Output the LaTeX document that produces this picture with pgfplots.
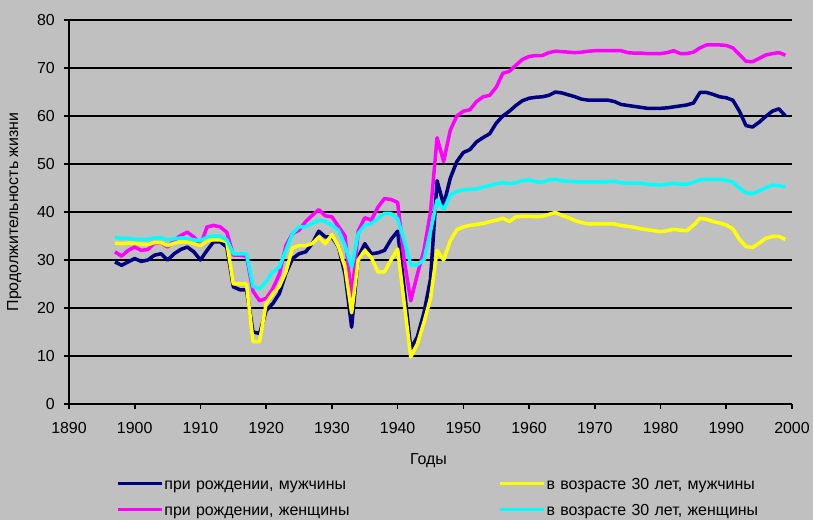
\documentclass[border=0pt]{standalone}
\usepackage{fontspec}
\setmainfont{Liberation Sans}
\usepackage{pgfplots}
\usepackage{pgfplotstable}
\pgfplotsset{compat=1.18}

\definecolor{bg}{RGB}{192,192,192}
\definecolor{mnavy}{RGB}{0,0,128}
\definecolor{mmag}{RGB}{255,0,255}
\definecolor{myel}{RGB}{255,255,0}
\definecolor{mcyan}{RGB}{0,255,255}

% year, at birth (men, women), at age 30 (men, women)
\pgfplotstableread{
year navy mag yel cyan
1897 29.6 31.7 33.5 34.7
1898 28.9 30.8 33.4 34.5
1899 29.6 32.0 33.5 34.5
1900 30.3 32.7 33.5 34.3
1901 29.7 32.0 33.3 34.3
1902 30.0 32.2 33.2 34.3
1903 31.0 33.5 33.6 34.6
1904 31.3 33.6 33.6 34.6
1905 30.0 32.7 33.0 34.2
1906 31.3 34.1 33.5 34.4
1907 32.2 35.1 33.8 34.6
1908 32.7 35.8 33.8 34.5
1909 31.7 34.8 33.4 34.2
1910 30.0 33.1 33.0 34.0
1911 32.0 36.9 34.0 34.8
1912 33.8 37.2 34.2 35.0
1913 33.8 36.9 34.2 34.9
1914 32.7 35.8 33.8 34.2
1915 24.4 31.0 25.0 31.3
1916 23.8 31.0 25.0 31.3
1917 23.8 30.8 25.0 31.3
1918 15.0 23.5 13.0 24.5
1919 14.7 21.5 13.0 24.0
1920 19.5 22.0 21.0 25.5
1921 20.9 24.0 23.0 27.5
1922 23.0 27.0 24.5 28.5
1923 27.2 33.0 27.5 32.0
1924 30.3 35.5 32.5 35.5
1925 31.3 36.2 33.0 36.9
1926 31.7 38.0 33.0 36.9
1927 33.4 39.3 33.4 37.6
1928 36.0 40.5 34.8 38.3
1929 34.8 39.2 33.4 38.0
1930 34.8 39.0 35.3 37.2
1931 32.7 37.0 32.8 36.2
1932 27.0 35.0 28.5 33.0
1933 16.0 22.0 19.0 28.5
1934 30.6 36.0 30.0 35.5
1935 33.4 38.8 32.0 37.2
1936 31.3 38.3 30.5 37.6
1937 31.5 41.0 27.5 38.6
1938 32.0 42.8 27.5 39.7
1939 34.3 42.6 30.0 39.7
1940 36.0 42.0 32.3 38.6
1941 24.0 30.0 21.0 34.0
1942 11.5 21.5 9.8 29.0
1943 14.0 27.0 12.5 29.0
1944 19.0 32.0 17.0 30.0
1945 26.0 40.0 22.0 36.0
1946 46.5 55.5 32.0 42.5
1947 41.5 50.5 30.0 40.5
1948 47.0 57.0 34.0 43.5
1949 50.5 60.0 36.3 44.3
1950 52.4 61.0 36.9 44.6
1951 53.0 61.3 37.2 44.7
1952 54.6 63.0 37.4 44.8
1953 55.5 64.0 37.6 45.2
1954 56.3 64.3 38.0 45.5
1955 58.5 66.0 38.3 45.9
1956 60.0 68.9 38.7 46.1
1957 61.0 69.3 38.0 45.9
1958 62.2 70.6 39.0 46.1
1959 63.2 71.8 39.1 46.5
1960 63.7 72.4 39.1 46.7
1961 63.9 72.6 39.0 46.3
1962 64.0 72.6 39.1 46.2
1963 64.3 73.2 39.5 46.7
1964 65.0 73.5 39.9 46.8
1965 64.8 73.4 39.3 46.5
1966 64.4 73.3 38.8 46.4
1967 64.0 73.2 38.2 46.3
1968 63.5 73.3 37.8 46.3
1969 63.3 73.5 37.5 46.3
1970 63.3 73.6 37.5 46.3
1971 63.3 73.6 37.5 46.3
1972 63.3 73.6 37.5 46.3
1973 63.0 73.6 37.5 46.4
1974 62.4 73.6 37.2 46.1
1975 62.2 73.2 37.0 46.0
1976 62.0 73.1 36.8 46.0
1977 61.8 73.1 36.5 46.0
1978 61.6 73.0 36.3 45.8
1979 61.6 73.0 36.1 45.7
1980 61.6 73.0 35.9 45.6
1981 61.7 73.2 36.1 45.8
1982 61.9 73.6 36.4 46.0
1983 62.1 73.0 36.2 45.8
1984 62.3 73.0 36.1 45.8
1985 62.7 73.3 37.2 46.2
1986 64.9 74.2 38.7 46.7
1987 64.9 74.8 38.5 46.8
1988 64.5 74.8 38.0 46.8
1989 64.0 74.8 37.7 46.8
1990 63.8 74.7 37.3 46.6
1991 63.3 74.2 36.5 46.2
1992 61.0 72.8 34.3 45.0
1993 58.0 71.4 32.8 44.0
1994 57.7 71.3 32.6 43.8
1995 58.7 72.0 33.5 44.4
1996 59.9 72.7 34.5 45.0
1997 61.0 73.0 34.9 45.6
1998 61.5 73.2 34.9 45.5
1999 60.0 72.7 34.3 45.2
}\lifetable

\begin{document}
\begin{tikzpicture}[font=\fontsize{16}{19}\selectfont]
\fill[bg] (0,0) rectangle (813bp,520bp);
\useasboundingbox (0,0) rectangle (813bp,520bp);
\begin{axis}[
    at={(69bp,116bp)}, anchor=south west,
    scale only axis, width=723bp, height=384bp,
    xmin=1890, xmax=2000, ymin=0, ymax=80,
    xtick distance=10, ytick distance=10,
    axis lines=left,
    axis line style={-, black, line width=2bp},
    ymajorgrids=true,
    grid style={black, line width=1.6bp},
    tick align=outside, major tick length=5bp,
    tick style={black, line width=1.6bp},
    /pgf/number format/1000 sep={},
    /pgf/number format/assume math mode=true,
    xticklabel style={inner sep=0pt, yshift=-13bp},
    yticklabel style={inner sep=0pt, xshift=-9bp},
    xlabel={Годы},
    xlabel style={at={(axis description cs:0.5,0)}, anchor=north, yshift=-49bp, xshift=-2bp, inner sep=0pt},
    ylabel={Продолжительность жизни},
    ylabel style={at={(axis description cs:0,0.5)}, anchor=center, yshift=54.6bp, inner sep=0pt},
    legend columns=2, transpose legend,
    legend cell align=left,
    legend image code/.code={\draw[#1, line width=3.2bp] (0bp,3.5bp) -- (44bp,3.5bp);},
    legend style={at={(axis description cs:0.065,-0.1974)}, anchor=north west,
        draw=none, fill=none, inner sep=0pt, /tikz/column sep=0pt, /tikz/row sep=12bp,
        nodes={inner sep=1bp, text width=333bp, align=left, text height=8.5bp, text depth=3.5bp}},
    every axis plot/.append style={line width=3.5bp, line join=round},
]
\addplot[mnavy] table[x=year, y=navy] {\lifetable};
\addplot[mmag] table[x=year, y=mag] {\lifetable};
\addplot[myel] table[x=year, y=yel] {\lifetable};
\addplot[mcyan] table[x=year, y=cyan] {\lifetable};
\legend{{при рождении, мужчины}, {при рождении, женщины}, {в возрасте 30 лет, мужчины}, {в возрасте 30 лет, женщины}}
\end{axis}
\end{tikzpicture}
\end{document}
